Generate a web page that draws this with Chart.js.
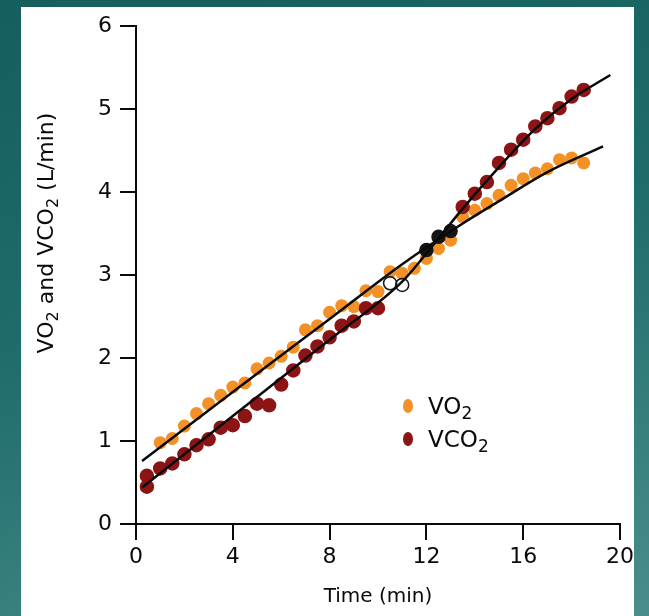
<!DOCTYPE html>
<html>
<head>
<meta charset="UTF-8">
<title>VO2 and VCO2</title>
<script src="https://cdn.jsdelivr.net/npm/chart.js"></script>
<style>
    html, body {
        margin: 0;
        padding: 0;
    }
    body {
        width: 649px;
        height: 616px;
        overflow: hidden;
        background: linear-gradient(165deg, #155f5e 0%, #1e6c6b 45%, #4a8e8c 100%);
        position: relative;
    }
    #panel {
        position: absolute;
        left: 21px;
        top: 7px;
        width: 613px;
        height: 609px;
        background: #fff;
    }
</style>
</head>
<body>
<div id="panel">
    <canvas id="graph" width="613" height="609"></canvas>
</div>
<script>
    // measured points (min, L/min)
    const vo2Time = [1.0, 1.5, 2.0, 2.5, 3.0, 3.5, 4.0, 4.5, 5.0, 5.5, 6.0, 6.5, 7.0, 7.5, 8.0, 8.5, 9.0, 9.5,
        10.0, 10.5, 11.0, 11.5, 12.0, 12.5, 13.0, 13.5, 14.0, 14.5, 15.0, 15.5, 16.0, 16.5, 17.0, 17.5, 18.0, 18.5];
    const vo2 = [0.98, 1.03, 1.18, 1.33, 1.45, 1.55, 1.65, 1.70, 1.87, 1.94, 2.02, 2.13, 2.34, 2.39, 2.55, 2.63, 2.62, 2.81,
        2.80, 3.04, 3.02, 3.08, 3.20, 3.32, 3.42, 3.70, 3.78, 3.86, 3.96, 4.08, 4.16, 4.23, 4.28, 4.39, 4.41, 4.35];

    const vco2Time = [0.45, 0.45, 1.0, 1.5, 2.0, 2.5, 3.0, 3.5, 4.0, 4.5, 5.0, 5.5, 6.0, 6.5, 7.0, 7.5, 8.0, 8.5, 9.0, 9.5,
        10.0, 10.5, 11.0, 12.0, 12.5, 13.0, 13.5, 14.0, 14.5, 15.0, 15.5, 16.0, 16.5, 17.0, 17.5, 18.0, 18.5];
    const vco2 = [0.58, 0.45, 0.67, 0.73, 0.84, 0.95, 1.02, 1.16, 1.19, 1.30, 1.45, 1.43, 1.68, 1.85, 2.03, 2.14, 2.25, 2.39, 2.44, 2.60,
        2.60, 2.90, 2.88, 3.30, 3.46, 3.53, 3.82, 3.98, 4.12, 4.35, 4.51, 4.63, 4.79, 4.89, 5.01, 5.15, 5.23];

    // fitted curves
    const vo2FitTime = [0.25, 4, 8, 11, 13.5, 15, 17, 19.3];
    const vo2Fit = [0.76, 1.59, 2.47, 3.13, 3.62, 3.89, 4.24, 4.55];
    const vco2FitTime = [0.25, 4, 8, 11, 12, 13.5, 15, 16.5, 18, 19.6];
    const vco2Fit = [0.44, 1.30, 2.22, 2.92, 3.26, 3.80, 4.30, 4.76, 5.12, 5.41];

    const xTicks = [0, 4, 8, 12, 16, 20];
    const yTicks = [0, 1, 2, 3, 4, 5, 6];

    const ORANGE = '#f39026';
    const DARKRED = '#8c1414';
    const INK = '#0a0a0a';
    const FONT = 'DejaVu Sans';

    function pairs(xs, ys) {
        return xs.map((x, i) => ({ x: x, y: ys[i] }));
    }

    // some VCO2 dots kept their black outline in the original print
    function vco2Fill(ctx) {
        const t = ctx.raw ? ctx.raw.x : 0;
        if (t > 10.2 && t < 11.2) return 'rgba(0,0,0,0)';
        if (t > 11.8 && t < 13.2) return '#161616';
        return DARKRED;
    }
    function vco2Border(ctx) {
        const t = ctx.raw ? ctx.raw.x : 0;
        if (t > 10.2 && t < 13.2) return '#161616';
        return DARKRED;
    }

    // text with a subscript "2"
    function drawSub(ctx, parts, x, y, size, align) {
        const sub = Math.round(size * 0.72);
        let total = 0;
        parts.forEach(p => {
            ctx.font = (p.sub ? sub : size) + 'px "' + FONT + '"';
            p.w = ctx.measureText(p.t).width;
            total += p.w;
        });
        let cx = align === 'center' ? x - total / 2 : x;
        parts.forEach(p => {
            ctx.font = (p.sub ? sub : size) + 'px "' + FONT + '"';
            ctx.fillText(p.t, cx, p.sub ? y + size * 0.22 : y);
            cx += p.w;
        });
    }

    const textPlugin = {
        id: 'textPlugin',
        afterDraw(chart) {
            const ctx = chart.ctx;
            ctx.save();
            ctx.fillStyle = INK;
            ctx.textBaseline = 'alphabetic';
            ctx.textAlign = 'left';

            // y axis title
            ctx.save();
            ctx.translate(32, 226);
            ctx.rotate(-Math.PI / 2);
            drawSub(ctx, [{ t: 'VO' }, { t: '2', sub: true }, { t: ' and VCO' }, { t: '2', sub: true }, { t: ' (L/min)' }],
                0, 0, 22, 'center');
            ctx.restore();

            // legend
            const items = [
                { color: ORANGE, parts: [{ t: 'VO' }, { t: '2', sub: true }] },
                { color: DARKRED, parts: [{ t: 'VCO' }, { t: '2', sub: true }] }
            ];
            items.forEach((it, i) => {
                const cy = 399 + i * 33;
                ctx.fillStyle = it.color;
                ctx.beginPath();
                ctx.ellipse(387, cy, 5, 7, 0, 0, Math.PI * 2);
                ctx.fill();
                ctx.fillStyle = INK;
                drawSub(ctx, it.parts, 407, cy + 8, 23, 'left');
            });
            ctx.restore();
        }
    };

    window.onload = function () {
        const ctx = document.getElementById('graph').getContext('2d');
        new Chart(ctx, {
            type: 'scatter',
            data: {
                datasets: [
                    {
                        label: 'VO2 fit',
                        data: pairs(vo2FitTime, vo2Fit),
                        showLine: true,
                        borderColor: INK,
                        borderWidth: 2.5,
                        pointRadius: 0,
                        cubicInterpolationMode: 'monotone',
                        order: 0
                    },
                    {
                        label: 'VCO2 fit',
                        data: pairs(vco2FitTime, vco2Fit),
                        showLine: true,
                        borderColor: INK,
                        borderWidth: 2.5,
                        pointRadius: 0,
                        cubicInterpolationMode: 'monotone',
                        order: 0
                    },
                    {
                        label: 'VO2',
                        data: pairs(vo2Time, vo2),
                        backgroundColor: ORANGE,
                        borderColor: ORANGE,
                        borderWidth: 0,
                        pointRadius: 6.5,
                        order: 2
                    },
                    {
                        label: 'VCO2',
                        data: pairs(vco2Time, vco2),
                        backgroundColor: vco2Fill,
                        borderColor: vco2Border,
                        borderWidth: 1.5,
                        pointRadius: 6.5,
                        order: 1
                    }
                ]
            },
            options: {
                responsive: false,
                animation: false,
                layout: {
                    padding: { left: 0, top: 19, right: 14, bottom: 0 }
                },
                plugins: {
                    legend: { display: false },
                    tooltip: { enabled: false }
                },
                scales: {
                    x: {
                        type: 'linear',
                        min: 0,
                        max: 20,
                        afterBuildTicks: s => { s.ticks = xTicks.map(v => ({ value: v })); },
                        afterFit: s => {
                            s.height = 92;
                            s.paddingLeft = 0;
                            s.paddingRight = 0;
                        },
                        grid: {
                            drawOnChartArea: false,
                            color: INK,
                            lineWidth: 2,
                            tickLength: 16
                        },
                        border: { color: INK, width: 2 },
                        ticks: {
                            color: INK,
                            padding: 4,
                            maxRotation: 0,
                            font: { family: FONT, size: 22 }
                        },
                        title: {
                            display: true,
                            text: 'Time (min)',
                            color: INK,
                            padding: { top: 0, bottom: 7 },
                            font: { family: FONT, size: 20 }
                        }
                    },
                    y: {
                        type: 'linear',
                        min: 0,
                        max: 6,
                        afterBuildTicks: s => { s.ticks = yTicks.map(v => ({ value: v })); },
                        afterFit: s => {
                            s.width = 115;
                            s.paddingTop = 0;
                            s.paddingBottom = 0;
                        },
                        grid: {
                            drawOnChartArea: false,
                            color: INK,
                            lineWidth: 2,
                            tickLength: 16
                        },
                        border: { color: INK, width: 2 },
                        ticks: {
                            color: INK,
                            padding: 8,
                            font: { family: FONT, size: 22 }
                        }
                    }
                }
            },
            plugins: [textPlugin]
        });
    };
</script>
</body>
</html>
